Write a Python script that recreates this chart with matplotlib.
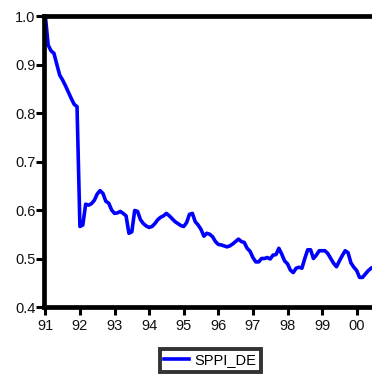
import numpy as np
import matplotlib
matplotlib.use("Agg")
import matplotlib.pyplot as plt

plt.rcParams['font.family'] = ['Liberation Sans', 'DejaVu Sans']

# Monthly series, 1991M01 onward
start_year = 1991
sppi_de = [
    # 1991
    1.000, 0.940, 0.928, 0.923, 0.900, 0.878, 0.868, 0.856, 0.843, 0.830, 0.818, 0.813,
    # 1992
    0.566, 0.569, 0.612, 0.610, 0.613, 0.620, 0.633, 0.640, 0.634, 0.618, 0.614, 0.600,
    # 1993
    0.593, 0.594, 0.597, 0.593, 0.588, 0.552, 0.555, 0.599, 0.597, 0.580, 0.572, 0.567,
    # 1994
    0.564, 0.566, 0.572, 0.580, 0.585, 0.588, 0.593, 0.588, 0.582, 0.576, 0.572, 0.568,
    # 1995
    0.566, 0.574, 0.591, 0.593, 0.576, 0.569, 0.560, 0.546, 0.552, 0.550, 0.545, 0.535,
    # 1996
    0.529, 0.528, 0.526, 0.524, 0.526, 0.530, 0.535, 0.540, 0.535, 0.533, 0.521, 0.515,
    # 1997
    0.502, 0.493, 0.493, 0.500, 0.500, 0.502, 0.499, 0.507, 0.508, 0.521, 0.509, 0.495,
    # 1998
    0.489, 0.476, 0.471, 0.480, 0.482, 0.480, 0.500, 0.518, 0.518, 0.500, 0.507, 0.516,
    # 1999
    0.516, 0.516, 0.510, 0.500, 0.490, 0.483, 0.495, 0.506, 0.516, 0.512, 0.491, 0.482,
    # 2000
    0.475, 0.461, 0.461, 0.468, 0.475, 0.480,
]
series_name = "SPPI_DE"
year_ticks = list(range(1991, 2001))
year_labels = ["91", "92", "93", "94", "95", "96", "97", "98", "99", "00"]
y_ticks = [0.4, 0.5, 0.6, 0.7, 0.8, 0.9, 1.0]
y_labels = ["0.4", "0.5", "0.6", "0.7", "0.8", "0.9", "1.0"]

t = start_year + np.arange(len(sppi_de)) / 12.0

W, H = 372, 378
fig = plt.figure(figsize=(W / 100, H / 100), dpi=100)
left_px, right_px, top_px, bottom_px = 44, 374, 16, 307
ax = fig.add_axes([left_px / W, 1 - bottom_px / H,
                   (right_px - left_px) / W, (bottom_px - top_px) / H])

line, = ax.plot(t, sppi_de, color="#0000ff", lw=2.6, solid_joinstyle="round",
                label=series_name)

ax.set_xlim(1990.962, 2000.5)
ax.set_ylim(0.4, 1.0)
ax.set_xticks(year_ticks)
ax.set_xticklabels(year_labels)
ax.set_yticks(y_ticks)
ax.set_yticklabels(y_labels)

for side in ["left", "top", "bottom"]:
    ax.spines[side].set_linewidth(3.4)
    ax.spines[side].set_color("black")
ax.spines["right"].set_visible(False)

ax.tick_params(axis="y", direction="out", length=6, width=2.2, pad=0,
               labelsize=10.5, colors="black", labelcolor="#111111")
ax.tick_params(axis="x", direction="out", length=6, width=2.2, pad=3,
               labelsize=10.5, colors="black", labelcolor="#111111")

leg = fig.legend(handles=[line], loc="center", bbox_to_anchor=(0.565, 0.047),
                 frameon=True, fancybox=False, fontsize=10.5, handlelength=1.7,
                 handletextpad=0.4, borderpad=0.3, borderaxespad=0)
leg.get_frame().set_edgecolor("black")
leg.get_frame().set_linewidth(2.8)

fig.savefig("out.png", dpi=100)
